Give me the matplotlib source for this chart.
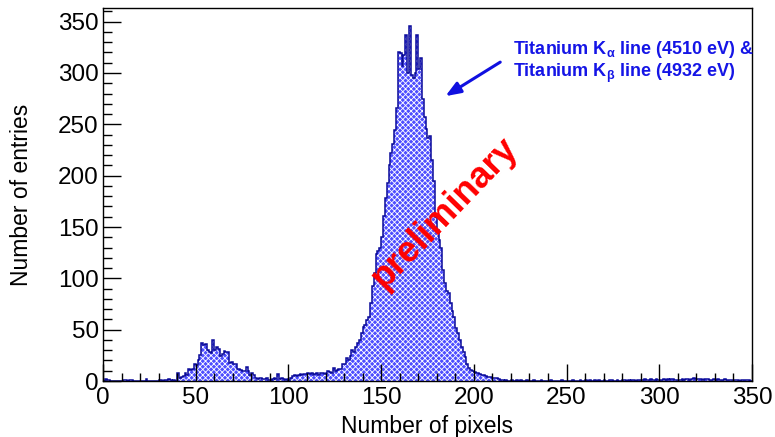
import numpy as np
import matplotlib
matplotlib.use("Agg")
import matplotlib.pyplot as plt

# Cluster-size histogram: entries per number of pixels (bin width 1, 0..350)
counts = [
    0, 2, 1, 1, 0, 0, 0, 0, 0, 0,
    0, 1, 1, 0, 1, 1, 0, 0, 0, 0,
    0, 0, 0, 2, 0, 0, 0, 0, 0, 0,
    1, 1, 0, 1, 1, 2, 1, 0, 1, 0,
    8, 3, 4, 5, 8, 6, 12, 11, 12, 17,
    16, 20, 25, 37, 35, 36, 30, 28, 27, 40,
    30, 33, 31, 24, 26, 29, 28, 28, 18, 19,
    17, 17, 12, 12, 11, 10, 10, 14, 10, 6,
    8, 6, 3, 2, 3, 3, 2, 2, 3, 1,
    1, 2, 3, 2, 7, 2, 3, 2, 1, 2,
    1, 3, 5, 6, 5, 6, 7, 6, 7, 7,
    8, 7, 8, 6, 7, 8, 6, 8, 8, 7,
    8, 10, 9, 8, 13, 10, 11, 12, 12, 17,
    17, 22, 20, 24, 30, 28, 33, 37, 40, 47,
    53, 55, 59, 62, 76, 93, 105, 124, 127, 130,
    140, 161, 178, 193, 210, 222, 231, 244, 266, 320,
    319, 307, 318, 337, 300, 346, 298, 295, 300, 337,
    304, 315, 275, 257, 245, 237, 239, 215, 195, 160,
    147, 137, 130, 108, 95, 88, 86, 76, 68, 62,
    52, 47, 40, 33, 28, 23, 17, 13, 11, 10,
    9, 8, 8, 7, 6, 6, 5, 4, 4, 4,
    3, 3, 3, 2, 1, 1, 0, 1, 0, 0,
    1, 0, 0, 1, 0, 1, 0, 0, 1, 0,
    0, 0, 1, 0, 0, 0, 1, 0, 0, 0,
    0, 1, 0, 0, 0, 0, 0, 1, 0, 0,
    0, 0, 0, 1, 0, 0, 0, 1, 0, 0,
    1, 0, 1, 0, 0, 1, 0, 1, 0, 0,
    1, 0, 0, 1, 1, 0, 0, 1, 0, 0,
    1, 1, 0, 1, 0, 1, 1, 0, 1, 1,
    1, 1, 2, 1, 1, 2, 1, 1, 2, 1,
    1, 1, 2, 1, 2, 1, 2, 2, 1, 1,
    1, 1, 2, 1, 2, 2, 1, 2, 3, 2,
    2, 2, 2, 1, 2, 2, 2, 1, 1, 2,
    1, 2, 1, 1, 1, 2, 1, 1, 1, 1,
    1, 1, 1, 0, 1, 1, 1, 1, 1, 0,
]
bin_edges = np.arange(0, len(counts) + 1)

x_label = "Number of pixels"
y_label = "Number of entries"
note_lines = [r"Titanium K$_{\alpha}$ line (4510 eV) &",
              r"Titanium K$_{\beta}$ line (4932 eV)"]
stamp = "preliminary"

plt.rcParams["font.family"] = ["Liberation Sans", "DejaVu Sans"]
plt.rcParams["mathtext.fontset"] = "custom"
plt.rcParams["mathtext.rm"] = "Liberation Sans:bold"
plt.rcParams["mathtext.it"] = "Liberation Sans:bold"
plt.rcParams["hatch.linewidth"] = 0.6

fig = plt.figure(figsize=(7.75, 4.37), dpi=100)
ax = fig.add_axes([0.1329, 0.1281, 0.8374, 0.8536])

ymax = max(counts) * 1.05

# patterned fill, then the outline
ax.stairs(counts, bin_edges, fill=True, facecolor="#4e4eff", edgecolor="white",
          hatch="xxxxxx", linewidth=0)
ax.stairs(counts, bin_edges, fill=False, edgecolor="#0a0a9a", linewidth=1.1)

ax.set_xlim(0, 350)
ax.set_ylim(0, ymax)

ax.set_xticks(np.arange(0, 351, 50))
ax.set_xticks(np.arange(0, 351, 10), minor=True)
ax.set_yticks(np.arange(0, 351, 50))
ax.set_yticks(np.arange(0, 361, 10), minor=True)
ax.tick_params(which="both", direction="in", top=False, right=False,
               labelsize=17.5, width=1.0, colors="black")
ax.tick_params(axis="x", which="major", length=12, pad=4)
ax.tick_params(axis="x", which="minor", length=6)
ax.tick_params(axis="y", which="major", length=13, pad=3)
ax.tick_params(axis="y", which="minor", length=6.5)
for s in ax.spines.values():
    s.set_linewidth(1.0)

ax.set_xlabel(x_label, fontsize=16.5)
ax.set_ylabel(y_label, fontsize=16.5)
ax.xaxis.set_label_coords(0.5, -0.09)
ax.yaxis.set_label_coords(-0.108, 0.5)

ax.annotate("", xy=(183.4, 276), xytext=(215.5, 312),
            arrowprops=dict(arrowstyle="-|>,head_length=0.9,head_width=0.35",
                            color="#1010e0", lw=2.2))
ax.text(221, 311, note_lines[0] + "\n" + note_lines[1], color="#1515e6",
        fontsize=13, fontweight="bold", va="center", ha="left",
        linespacing=1.1)

ax.text(184.5, 163.5, stamp, color="#ff0000", fontsize=26, fontweight="bold",
        rotation=46, rotation_mode="anchor", ha="center", va="center")

fig.savefig("out.png", dpi=100)
